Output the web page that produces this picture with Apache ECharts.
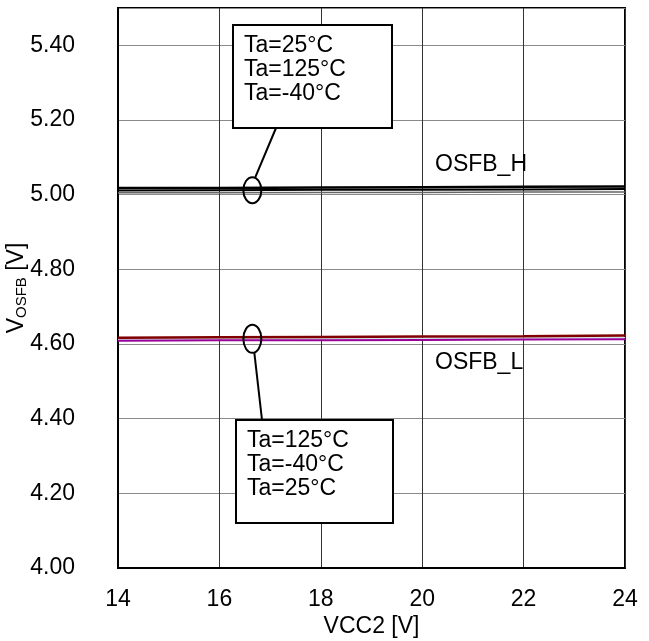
<!DOCTYPE html>
<html><head><meta charset="utf-8">
<script src="https://cdn.jsdelivr.net/npm/echarts@6/dist/echarts.min.js"></script>
<style>html,body{margin:0;padding:0;background:#fff}#c{width:649px;height:641px}</style>
</head><body><div id="c"></div>
<script>
var vcc = [14, 16, 18, 20, 22, 24];
var xTicks = [14, 16, 18, 20, 22, 24];
var yTicks = [4.00, 4.20, 4.40, 4.60, 4.80, 5.00, 5.20, 5.40];
var H_25 = [5.011, 5.012, 5.013, 5.013, 5.014, 5.015];
var H_125 = [5.018, 5.018, 5.019, 5.020, 5.021, 5.022];
var H_m40 = [5.005, 5.005, 5.006, 5.006, 5.007, 5.007];
var L_125 = [4.617, 4.618, 4.619, 4.620, 4.621, 4.623];
var L_m40 = [4.609, 4.610, 4.610, 4.611, 4.612, 4.613];
var L_25 = [4.613, 4.614, 4.614, 4.615, 4.616, 4.617];
var labelH = ['Ta=25°C', 'Ta=125°C', 'Ta=-40°C'];
var labelL = ['Ta=125°C', 'Ta=-40°C', 'Ta=25°C'];

var FONT = 'Liberation Sans, Arial, sans-serif';
function pts(arr){ return vcc.map(function(x,i){ return [x, arr[i]]; }); }
function ser(name, arr, color, w, z){
  return {name:name, type:'line', data:pts(arr), symbol:'none', smooth:false,
    lineStyle:{color:color, width:w}, z:z, silent:true};
}
var chart = echarts.init(document.getElementById('c'), null, {renderer:'canvas'});
var opt = {
  animation:false,
  grid:{left:118, right:24, top:8, bottom:73, containLabel:false, outerBoundsMode:'none',
    show:true, borderColor:'#000', borderWidth:2, backgroundColor:'transparent'},
  xAxis:{type:'value', min:14, max:24, interval:2,
    name:'VCC2 [V]', nameLocation:'middle', nameGap:47, nameMoveOverlap:false,
    nameTextStyle:{fontFamily:FONT, fontSize:23, color:'#000'},
    axisLine:{show:true, lineStyle:{color:'#000', width:2}}, axisTick:{show:false},
    axisLabel:{fontFamily:FONT, fontSize:23, color:'#000', margin:20,
      formatter:function(v){ return xTicks.indexOf(v)>=0 ? String(v) : ''; }},
    splitLine:{show:true, lineStyle:{color:'#333', width:1}}},
  yAxis:{type:'value', min:4.0, max:5.5, interval:0.2,
    name:'{v|V}{s|OSFB}{v| [V]}', nameLocation:'middle', nameGap:89, nameRotate:90, nameMoveOverlap:false,
    nameTextStyle:{fontFamily:FONT, color:'#000', rich:{
      v:{fontFamily:FONT, fontSize:23, color:'#000'},
      s:{fontFamily:FONT, fontSize:15, color:'#000', verticalAlign:'bottom', padding:[9,0,0,0]}}},
    axisLine:{show:true, lineStyle:{color:'#000', width:2}}, axisTick:{show:false},
    axisLabel:{fontFamily:FONT, fontSize:23, color:'#000', margin:43,
      formatter:function(v){
        for (var i=0;i<yTicks.length;i++){ if (Math.abs(yTicks[i]-v)<1e-6) return yTicks[i].toFixed(2); }
        return '';
      }},
    splitLine:{show:true, lineStyle:{color:'#8a8a8a', width:1}}},
  series:[
    ser(labelH[2], H_m40, '#666', 1.5, 3),
    ser(labelH[0], H_25, '#000', 2, 4),
    ser(labelH[1], H_125, '#000', 2.5, 5),
    ser(labelL[2], L_25, '#cfe6e6', 1.5, 3),
    ser(labelL[1], L_m40, '#990099', 2, 4),
    ser(labelL[0], L_125, '#800000', 2.5, 5)
  ]
};
chart.setOption(opt);

function box(x, y, w, h, lines){
  var els = [{type:'rect', shape:{x:x, y:y, width:w, height:h}, style:{fill:'#fff', stroke:'#000', lineWidth:2}, z:100}];
  lines.forEach(function(t, i){
    els.push({type:'text', x:x+11, y:y+21+i*24, style:{text:t, fill:'#000', fontFamily:FONT, fontSize:23, textVerticalAlign:'middle'}, z:101});
  });
  return els;
}
var pH = chart.convertToPixel({gridIndex:0}, [16.65, 5.012]);
var pL = chart.convertToPixel({gridIndex:0}, [16.65, 4.614]);
var g = [];
g = g.concat(box(233, 25, 159, 103, labelH));
g = g.concat(box(236, 420, 157, 103, labelL));
g.push({type:'ellipse', shape:{cx:pH[0], cy:pH[1], rx:9, ry:13}, style:{fill:'none', stroke:'#000', lineWidth:2}, z:102});
g.push({type:'ellipse', shape:{cx:pL[0], cy:pL[1], rx:9, ry:14}, style:{fill:'none', stroke:'#000', lineWidth:2}, z:102});
g.push({type:'line', shape:{x1:276, y1:128, x2:pH[0]+3, y2:pH[1]-13}, style:{stroke:'#000', lineWidth:2}, z:102});
g.push({type:'line', shape:{x1:pL[0]+2, y1:pL[1]+14, x2:262, y2:420}, style:{stroke:'#000', lineWidth:2}, z:102});
g.push({type:'text', x:435, y:165, style:{text:'OSFB_H', fill:'#000', fontFamily:FONT, fontSize:23, textVerticalAlign:'middle'}, z:101});
g.push({type:'text', x:435, y:363, style:{text:'OSFB_L', fill:'#000', fontFamily:FONT, fontSize:23, textVerticalAlign:'middle'}, z:101});
chart.setOption({graphic:g});
</script></body></html>
